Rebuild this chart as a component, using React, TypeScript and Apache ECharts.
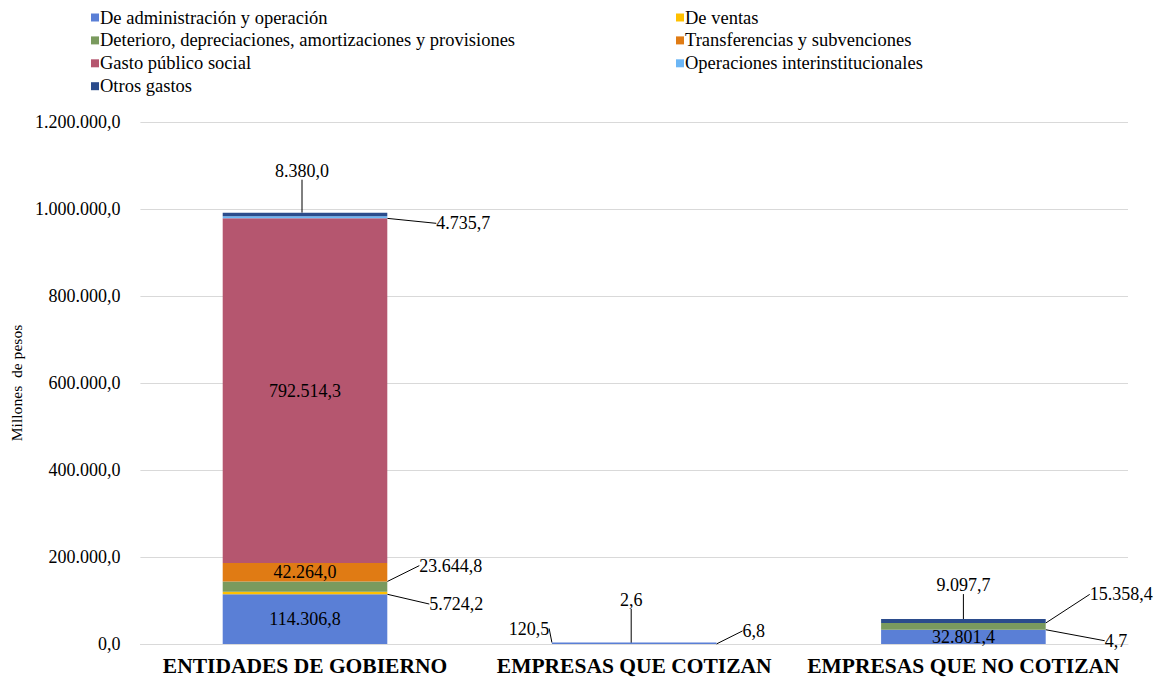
import React, { useEffect, useRef } from "react";
import * as echarts from "echarts";

const categories = ["ENTIDADES DE GOBIERNO", "EMPRESAS QUE COTIZAN", "EMPRESAS QUE NO COTIZAN"];
const seriesNames = [
  "De administración y operación",
  "De ventas",
  "Deterioro, depreciaciones, amortizaciones y provisiones",
  "Transferencias y subvenciones",
  "Gasto público social",
  "Operaciones interinstitucionales",
  "Otros gastos",
];
const administracion = [114306.8, 120.5, 32801.4];
const ventas = [5724.2, null, 4.7];
const deterioro = [23644.8, 6.8, 15358.4];
const transferencias = [42264.0, null, null];
const gastoSocial = [792514.3, null, null];
const operaciones = [4735.7, null, null];
const otros = [8380.0, 2.6, 9097.7];
const yTicks = [0, 200000, 400000, 600000, 800000, 1000000, 1200000];

const colors = ["#5A7FD6", "#FFC000", "#7A9A5E", "#E07B14", "#B5566F", "#6CB6F5", "#2B4C8C"];
const FONT = "Liberation Serif";

function fmt(v: number): string {
  const [i, d] = v.toFixed(1).split(".");
  return i.replace(/\B(?=(\d{3})+(?!\d))/g, ".") + "," + d;
}

type Pl = { side: "right" | "top" | "left"; dx: number; dy: number };
// label placements (offsets from the bar segment) for outside labels
const placements: Record<number, Record<number, Pl>> = {
  0: { 1: { side: "left", dx: -23, dy: -14 } },
  1: { 0: { side: "right", dx: 42, dy: 11 }, 2: { side: "right", dx: 59, dy: 11 } },
  2: { 0: { side: "right", dx: 32, dy: -21 }, 1: { side: "right", dx: 26, dy: -13 }, 2: { side: "right", dx: 44, dy: -32 } },
  5: { 0: { side: "right", dx: 49, dy: 6 } },
  6: { 0: { side: "top", dx: -3, dy: -42 }, 1: { side: "top", dx: -3, dy: -44 }, 2: { side: "top", dx: 0, dy: -34 } },
};

export default function App() {
  const ref = useRef<HTMLDivElement>(null);
  useEffect(() => {
    const chart = echarts.init(ref.current!, null, { renderer: "svg" });
    const allData = [administracion, ventas, deterioro, transferencias, gastoSocial, operaciones, otros];
    const series = allData.map((data, si) => ({
      name: seriesNames[si],
      type: "bar",
      stack: "total",
      barWidth: "50%",
      barMinHeight: si === 0 ? 1.5 : 0,
      itemStyle: { color: colors[si] },
      data,
      label: {
        show: true,
        position: "inside",
        color: "#000",
        fontFamily: FONT,
        fontSize: 18,
        formatter: (p: any) => (p.value == null ? "" : fmt(p.value)),
      },
      labelLine: { show: true, lineStyle: { color: "#000", width: 1 } },
      labelLayout: (params: any) => {
        const pl = placements[si] && placements[si][params.dataIndex];
        if (!pl) return {};
        const r = params.rect;
        const top = Math.min(r.y, r.y + r.height);
        const h = Math.abs(r.height);
        const mid = top + h / 2;
        if (pl.side === "right") {
          return { x: r.x + r.width + pl.dx, y: mid + pl.dy, align: "left", verticalAlign: "middle" };
        }
        if (pl.side === "left") {
          return { x: r.x + pl.dx, y: top + pl.dy, align: "center", verticalAlign: "middle" };
        }
        return { x: r.x + r.width / 2 + pl.dx, y: top + pl.dy, align: "center", verticalAlign: "middle" };
      },
    }));

    const legendCommon = {
      top: 8,
      orient: "vertical",
      icon: "rect",
      itemWidth: 8,
      itemHeight: 8,
      itemGap: 3.9,
      padding: 0,
      textStyle: { fontFamily: FONT, fontSize: 18.5, color: "#000", padding: [0, 0, 0, -4], lineHeight: 18.5 },
    };

    chart.setOption({
      animation: false,
      backgroundColor: "#fff",
      textStyle: { fontFamily: FONT },
      legend: [
        { ...legendCommon, left: 91, data: [seriesNames[0], seriesNames[2], seriesNames[4], seriesNames[6]] },
        { ...legendCommon, left: 676, data: [seriesNames[1], seriesNames[3], seriesNames[5]] },
      ],
      grid: { left: 138, right: 33, top: 122, bottom: 35, containLabel: false },
      xAxis: {
        type: "category",
        data: categories,
        axisTick: { show: false },
        axisLine: { show: true, lineStyle: { color: "#d9d9d9" } },
        axisLabel: { color: "#000", fontFamily: FONT, fontSize: 21.5, fontWeight: "bold", margin: 11, interval: 0 },
      },
      yAxis: {
        type: "value",
        min: yTicks[0],
        max: yTicks[yTicks.length - 1],
        interval: yTicks[1] - yTicks[0],
        name: "Millones  de pesos",
        nameLocation: "middle",
        nameGap: 112,
        nameTextStyle: { color: "#000", fontFamily: FONT, fontSize: 15.6 },
        axisLine: { show: false },
        axisTick: { show: false },
        splitLine: { lineStyle: { color: "#d9d9d9" } },
        axisLabel: { color: "#000", fontFamily: FONT, fontSize: 18, margin: 20, formatter: (v: number) => fmt(v) },
      },
      series,
    });
    return () => chart.dispose();
  }, []);
  return <div ref={ref} style={{ position: "absolute", left: 0, top: 0, width: 1161, height: 679 }} />;
}
